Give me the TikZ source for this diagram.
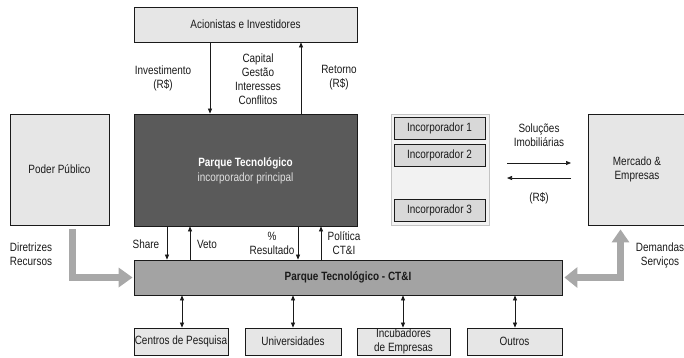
\documentclass[tikz,border=0pt]{standalone}
\usepackage{fontspec}
\setmainfont[FakeStretch=0.83]{Liberation Sans}
\usetikzlibrary{arrows.meta}
\definecolor{boxlight}{HTML}{E6E6E6}
\definecolor{boxdark}{HTML}{5A5A5A}
\definecolor{boxmid}{HTML}{A3A3A3}
\definecolor{groupfill}{HTML}{F2F2F2}
\definecolor{groupline}{HTML}{C4C4C4}
\definecolor{flowgray}{HTML}{A8A8A8}
\definecolor{ink}{HTML}{1A1A1A}
\begin{document}
\begin{tikzpicture}[x=1pt,y=-1pt,
  font=\fontsize{12}{14}\selectfont,
  panel/.style={draw=ink, line width=0.8pt, fill=boxlight, inner sep=0pt, align=center, text=ink},
  txt/.style={align=center, inner sep=0pt, text=ink},
  flow/.style={draw=ink, line width=0.7pt, -{Triangle[length=5pt 0 0,width=4pt 0 0]}},
  flowboth/.style={draw=ink, line width=0.7pt, {Triangle[length=5pt 0 0,width=4pt 0 0]}-{Triangle[length=5pt 0 0,width=4pt 0 0]}},
  bigflow/.style={draw=flowgray, line width=7pt, line join=miter, -{Triangle[length=14pt 0 0,width=19pt 0 0]}},
  bigflowboth/.style={draw=flowgray, line width=7pt, line join=miter, {Triangle[length=13pt 0 0,width=20pt 0 0]}-{Triangle[length=13pt 0 0,width=17pt 0 0]}}
]
\useasboundingbox (0,0) rectangle (684,357);

% main blocks
\node[panel, minimum width=223pt, minimum height=35pt] (acion) at (245.5,24.5) {Acionistas e Investidores};
\node[panel, fill=boxdark, minimum width=223pt, minimum height=112pt] (park) at (245.5,170) {};
\node[txt, text=white, font=\fontsize{12}{14}\selectfont\bfseries] (parkt) at (245.5,163) {Parque Tecnológico};
\node[txt, text=black!12] (parks) at (245.5,178) {incorporador principal};
\node[panel, minimum width=99pt, minimum height=111pt] (poder) at (59.5,169.5) {Poder Público};
\node[panel, minimum width=98pt, minimum height=111pt] (merc) at (637,169.5) {Mercado \&\\Empresas};
\node[panel, fill=boxmid, minimum width=428pt, minimum height=35pt] (ctei) at (348,277.5) {\bfseries Parque Tecnológico - CT\&I};

% group of developers
\node[draw=groupline, line width=0.8pt, fill=groupfill, minimum width=98pt, minimum height=111pt, inner sep=0pt] (incg) at (440,169.5) {};
\node[panel, fill=boxlight!90!black!60!boxlight, minimum width=91pt, minimum height=22pt] (inc1) at (439.5,128) {Incorporador 1};
\node[panel, fill=boxlight!90!black!60!boxlight, minimum width=91pt, minimum height=22pt] (inc2) at (439.5,155) {Incorporador 2};
\node[panel, fill=boxlight!90!black!60!boxlight, minimum width=91pt, minimum height=22pt] (inc3) at (439.5,210) {Incorporador 3};

% bottom partners
\node[panel, minimum width=94pt, minimum height=27pt] (cent) at (181,341.5) {Centros de Pesquisa};
\node[panel, minimum width=96pt, minimum height=27pt] (univ) at (293,341.5) {Universidades};
\node[panel, minimum width=93pt, minimum height=27pt, font=\fontsize{12}{13.5}\selectfont] (incub) at (403.5,341.5) {Incubadores\\de Empresas};
\node[panel, minimum width=95pt, minimum height=27pt] (outr) at (514.5,341.5) {Outros};

% flows between shareholders and the park
\coordinate (xinv) at (210,0);
\coordinate (xret) at (301,0);
\draw[flow] (xinv |- acion.south) -- (xinv |- park.north);
\draw[flow] (xret |- park.north) -- (xret |- acion.south);
\node[txt] (linv) at (163,78) {Investimento\\(R\$)};
\node[txt] (lcap) at (258,79) {Capital\\Gestão\\Interesses\\Conflitos};
\node[txt] (lret) at (339,78) {Retorno\\(R\$)};

% flows between the park and CT&I
\coordinate (xsh) at (167,0);
\coordinate (xve) at (190,0);
\coordinate (xre) at (298,0);
\coordinate (xpo) at (321,0);
\draw[flow] (xsh |- park.south) -- (xsh |- ctei.north);
\draw[flow] (xve |- ctei.north) -- (xve |- park.south);
\draw[flow] (xre |- park.south) -- (xre |- ctei.north);
\draw[flow] (xpo |- ctei.north) -- (xpo |- park.south);
\node[txt] (lsh) at (146,244) {Share};
\node[txt] (lve) at (207,244) {Veto};
\node[txt] (lres) at (272,243) {\%\\Resultado};
\node[txt] (lpol) at (344,243) {Política\\CT\&I};

% real-estate exchange with the market
\coordinate (sa) at (507,163);
\coordinate (sb) at (571,163);
\coordinate (ra) at (571,178);
\coordinate (rb) at (507,178);
\draw[flow] (sa) -- (sb);
\draw[flow] (ra) -- (rb);
\node[txt] (lsol) at (539,135.5) {Soluções\\Imobiliárias};
\node[txt] (lrs) at (539,198) {(R\$)};

% public power and market flows
\coordinate (pp) at (72.5,229);
\draw[bigflow] (pp) |- ([xshift=-1pt]ctei.west);
\coordinate (mq) at (620.5,0);
\draw[bigflowboth, shorten <=2pt, shorten >=4pt] (ctei.east) -| (mq |- merc.south);
\node[txt] (ldir) at (31,254) {Diretrizes\\Recursos};
\node[txt] (ldem) at (660,255) {Demandas\\Serviços};

% links to partners
\foreach \x/\n in {182/cent,293/univ,403/incub,515/outr}{
  \coordinate (c\n) at (\x,0);
  \draw[flowboth] (c\n |- ctei.south) -- (c\n |- \n.north);
}
\end{tikzpicture}
\end{document}
